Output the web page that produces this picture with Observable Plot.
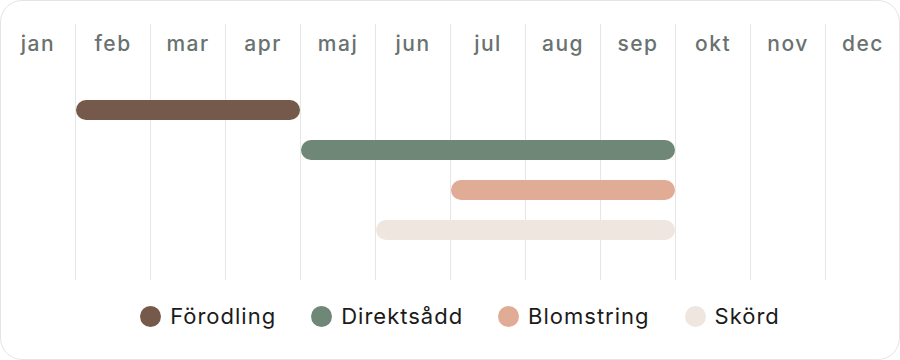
<!DOCTYPE html>
<html>
<head>
<meta charset="utf-8">
<script src="https://cdn.jsdelivr.net/npm/d3@7"></script>
<script src="https://cdn.jsdelivr.net/npm/@observablehq/plot@0.6"></script>
<style>
  html, body { margin: 0; padding: 0; background: #fff; }
  body { width: 900px; height: 360px; position: relative; overflow: hidden; font-family: Inter, "Noto Sans", sans-serif; }
  #card { position: absolute; left: 0; top: 0; width: 900px; height: 360px; box-sizing: border-box; border: 1px solid #e4e4e4; border-radius: 22px; background: #fff; }
  #chart { position: absolute; left: 0; top: 0; }
  #chart svg text { letter-spacing: 1.5px; }
  #legend { position: absolute; left: 20px; right: 0; top: 304px; height: 24px; display: flex; justify-content: center; align-items: center; gap: 35px; }
  .item { display: flex; align-items: center; gap: 9px; font-size: 22px; color: #1b1b1b; letter-spacing: 1px; }
  .dot { width: 21px; height: 21px; border-radius: 50%; flex: none; }
</style>
</head>
<body>
<div id="card"></div>
<div id="chart"></div>
<div id="legend"></div>
<script>
const months = ["jan","feb","mar","apr","maj","jun","jul","aug","sep","okt","nov","dec"];
const series = ["Förodling","Direktsådd","Blomstring","Skörd"];
const startMonth = [1, 4, 6, 5];   // index of first month (0 = jan)
const endMonth   = [4, 9, 9, 9];   // index after last month
const colors = ["#75594b","#6e8776","#e0ac96","#efe7df"];

const bars = series.map((s, i) => ({name: s, start: startMonth[i], end: endMonth[i]}));
const monthData = months.map((m, i) => ({m, i}));
const bounds = d3.range(1, months.length);

const chart = Plot.plot({
  width: 900,
  height: 280,
  marginTop: 24,
  marginBottom: 0,
  marginLeft: 0,
  marginRight: 0,
  x: {domain: [0, months.length], range: [0, 900], axis: null},
  y: {domain: series, range: [80, 260], paddingInner: 0.5, paddingOuter: 0.5, axis: null},
  color: {domain: series, range: colors},
  marks: [
    Plot.ruleX(bounds, {x: d => d, stroke: "#e6e6e6", strokeWidth: 1}),
    Plot.text(monthData, {x: d => d.i + 0.5, frameAnchor: "top", dy: 20, lineAnchor: "middle", text: "m",
      fill: "#6a7270", fontSize: 21, fontWeight: 500, fontFamily: "Inter, sans-serif"}),
    Plot.barX(bars, {x1: "start", x2: "end", y: "name", fill: "name", rx: 10, insetLeft: 1})
  ]
});
document.getElementById("chart").appendChild(chart);

const legend = document.getElementById("legend");
series.forEach((s, i) => {
  const item = document.createElement("div");
  item.className = "item";
  const dot = document.createElement("span");
  dot.className = "dot";
  dot.style.background = colors[i];
  const label = document.createElement("span");
  label.textContent = s;
  item.appendChild(dot);
  item.appendChild(label);
  legend.appendChild(item);
});
</script>
</body>
</html>
